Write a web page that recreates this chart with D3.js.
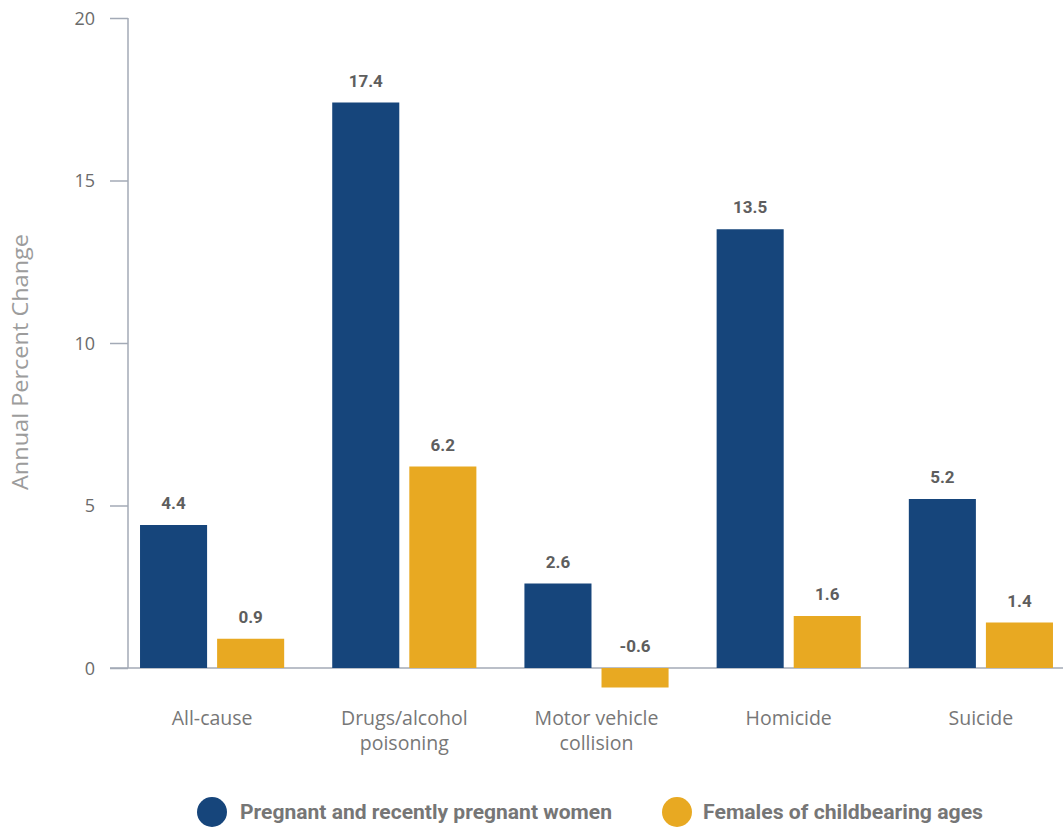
<!DOCTYPE html>
<html>
<head>
<meta charset="utf-8">
<script src="https://cdn.jsdelivr.net/npm/d3@7"></script>
<style>
  html, body { margin: 0; padding: 0; background: #fff; }
  svg { display: block; }
</style>
</head>
<body>
<svg id="chart" width="1063" height="828"></svg>
<script>
const categories = [["All-cause"], ["Drugs/alcohol", "poisoning"], ["Motor vehicle", "collision"], ["Homicide"], ["Suicide"]];
const seriesNames = ["Pregnant and recently pregnant women", "Females of childbearing ages"];
const pregnantValues = [4.4, 17.4, 2.6, 13.5, 5.2];
const femalesValues = [0.9, 6.2, -0.6, 1.6, 1.4];
const yTicks = [0, 5, 10, 15, 20];
const yTitle = "Annual Percent Change";
const colors = ["#16457b", "#e8a922"];

const svg = d3.select("#chart");
const catKeys = categories.map((c, i) => i);
const data = catKeys.map(i => ({ cat: i, values: [pregnantValues[i], femalesValues[i]] }));

const x0 = d3.scaleBand().domain(catKeys).range([116, 1077]).paddingInner(0.25).paddingOuter(0.125);
const x1 = d3.scaleBand().domain([0, 1]).range([0, x0.bandwidth()]).paddingInner(0.13).paddingOuter(0);
const y = d3.scaleLinear().domain([0, 20]).range([668, 18]);

// Y axis
const yAxis = d3.axisLeft(y).tickValues(yTicks).tickSize(18).tickPadding(15).tickFormat(d3.format("d"));
const gy = svg.append("g").attr("transform", "translate(128,0)").call(yAxis);
gy.select(".domain").attr("stroke", "#a3aab6").attr("stroke-width", 1.5).attr("d", `M0,${y(20)}V${y(0)}`);
gy.selectAll(".tick line").attr("stroke", "#a3aab6").attr("stroke-width", 1.5);
gy.selectAll(".tick text").attr("fill", "#6b6b6b").style("font-family", "'Open Sans', sans-serif").style("font-size", "18px").attr("dy", "0.35em");

// zero baseline
svg.append("line").attr("x1", 110).attr("x2", 1063).attr("y1", y(0)).attr("y2", y(0))
  .attr("stroke", "#a3aab6").attr("stroke-width", 1.5);

// Y title
svg.append("text").attr("transform", `translate(28,362) rotate(-90)`)
  .attr("text-anchor", "middle").attr("fill", "#9c9c9c")
  .style("font-family", "'Open Sans', sans-serif").style("font-size", "21px")
  .attr("textLength", 256).attr("lengthAdjust", "spacingAndGlyphs").text(yTitle);

// Bars
const groups = svg.append("g").selectAll("g").data(data).join("g")
  .attr("transform", d => `translate(${x0(d.cat)},0)`);

groups.selectAll("rect").data(d => d.values.map((v, s) => ({ v, s }))).join("rect")
  .attr("x", d => x1(d.s)).attr("width", x1.bandwidth())
  .attr("y", d => y(Math.max(0, d.v))).attr("height", d => Math.abs(y(d.v) - y(0)))
  .attr("fill", d => colors[d.s]);

groups.selectAll("text.val").data(d => d.values.map((v, s) => ({ v, s }))).join("text")
  .attr("class", "val")
  .attr("x", d => x1(d.s) + x1.bandwidth() / 2)
  .attr("y", d => y(Math.max(0, d.v)) - 16)
  .attr("text-anchor", "middle").attr("fill", "#5e5e5e")
  .style("font-family", "Roboto, sans-serif").style("font-weight", "700").style("font-size", "17px")
  .text(d => d.v.toFixed(1));

// Category labels
groups.append("text").attr("text-anchor", "middle").attr("fill", "#777")
  .style("font-family", "'Open Sans', sans-serif").style("font-size", "19.5px")
  .attr("x", x0.bandwidth() / 2)
  .selectAll("tspan").data(d => categories[d.cat]).join("tspan")
  .attr("x", x0.bandwidth() / 2).attr("y", (d, i) => 725 + i * 25).text(d => d);

// Legend
const legendPos = [{ cx: 212, tx: 240, len: 372 }, { cx: 677, tx: 703, len: 280 }];
const legend = svg.append("g").selectAll("g").data(seriesNames).join("g");
legend.append("circle").attr("cx", (d, i) => legendPos[i].cx).attr("cy", 812).attr("r", 15).attr("fill", (d, i) => colors[i]);
legend.append("text").attr("x", (d, i) => legendPos[i].tx).attr("y", 819)
  .attr("fill", "#767676").style("font-family", "Roboto, sans-serif").style("font-weight", "700").style("font-size", "20px")
  .attr("textLength", (d, i) => legendPos[i].len).attr("lengthAdjust", "spacingAndGlyphs")
  .text(d => d);
</script>
</body>
</html>
